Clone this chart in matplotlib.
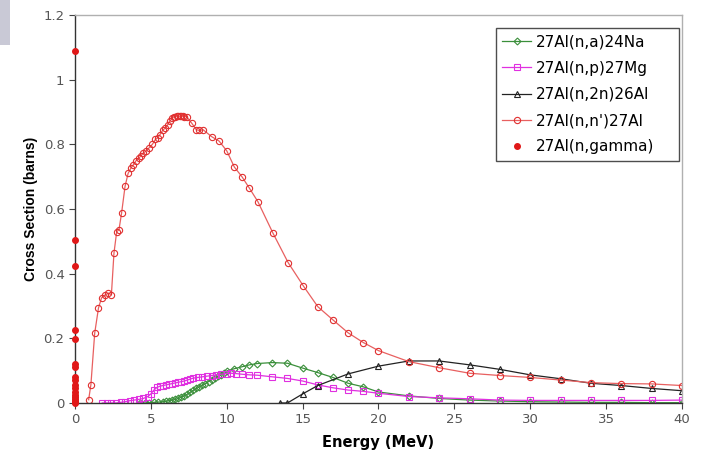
import matplotlib.pyplot as plt
from matplotlib.ticker import FuncFormatter
from matplotlib.patches import Rectangle

plt.rcParams['font.family'] = ['DejaVu Sans']

# 27Al(n,a)24Na
na_energy = [4.3, 4.6, 4.9, 5.2, 5.5, 5.8, 6.0, 6.2, 6.4, 6.6, 6.8, 7.0, 7.2, 7.4, 7.6, 7.8,
             8.0, 8.2, 8.4, 8.6, 8.8, 9.0, 9.2, 9.4, 9.6, 9.8, 10.0, 10.5, 11.0, 11.5, 12, 13,
             14, 15, 16, 17, 18, 19, 20, 22, 24, 26, 28, 30, 32, 34, 36, 38, 40]
na_xs = [0, 0, 0.001, 0.002, 0.003, 0.004, 0.005, 0.007, 0.009, 0.011, 0.014, 0.018, 0.022,
         0.027, 0.033, 0.039, 0.045, 0.05, 0.055, 0.06, 0.066, 0.072, 0.077, 0.082, 0.087,
         0.093, 0.099, 0.106, 0.112, 0.118, 0.122, 0.125, 0.123, 0.108, 0.094, 0.079, 0.061,
         0.05, 0.034, 0.022, 0.014, 0.009, 0.006, 0.004, 0.003, 0.002, 0.002, 0.001, 0.001]

# 27Al(n,p)27Mg
np_energy = [1.8, 2.1, 2.4, 2.7, 3.0, 3.3, 3.6, 3.9, 4.2, 4.5, 4.8, 5.0, 5.2, 5.4, 5.6, 5.8,
             6.0, 6.2, 6.4, 6.6, 6.8, 7.0, 7.2, 7.4, 7.6, 7.8, 8.1, 8.4, 8.7, 9.0, 9.3, 9.6,
             10.0, 10.3, 10.6, 11.0, 11.5, 12.0, 13, 14, 15, 16, 17, 18, 19, 20, 22, 24, 26,
             28, 30, 32, 34, 36, 38, 40]
np_xs = [0, 0, 0, 0, 0.002, 0.004, 0.007, 0.009, 0.011, 0.014, 0.02, 0.028, 0.04, 0.048,
         0.052, 0.054, 0.056, 0.058, 0.06, 0.062, 0.064, 0.066, 0.068, 0.071, 0.074, 0.077,
         0.079, 0.081, 0.083, 0.085, 0.087, 0.089, 0.091, 0.092, 0.091, 0.089, 0.087, 0.086,
         0.081, 0.076, 0.068, 0.056, 0.047, 0.040, 0.036, 0.030, 0.020, 0.016, 0.013, 0.009,
         0.008, 0.008, 0.008, 0.008, 0.008, 0.009]

# 27Al(n,2n)26Al
n2n_energy = [13.5, 14.0, 15, 16, 18, 20, 22, 24, 26, 28, 30, 32, 34, 36, 38, 40]
n2n_xs = [0, 0, 0.028, 0.054, 0.09, 0.114, 0.13, 0.13, 0.118, 0.104, 0.087, 0.075, 0.061,
          0.054, 0.045, 0.038]

# 27Al(n,n')27Al
inel_energy = [0.9, 1.05, 1.3, 1.55, 1.75, 1.95, 2.2, 2.4, 2.57, 2.75, 2.9, 3.07, 3.3, 3.5,
               3.7, 3.85, 4.0, 4.2, 4.35, 4.5, 4.7, 4.9, 5.1, 5.3, 5.45, 5.6, 5.8, 5.95, 6.1,
               6.25, 6.4, 6.5, 6.6, 6.7, 6.8, 6.9, 7.0, 7.1, 7.2, 7.35, 7.7, 8.0, 8.2, 8.45,
               9.0, 9.5, 10.0, 10.5, 11.0, 11.5, 12.05, 13.05, 14.05, 15.05, 16, 17, 18, 19,
               20, 22, 24, 26, 28, 30, 32, 34, 36, 38, 40]
inel_xs = [0.01, 0.057, 0.216, 0.294, 0.325, 0.333, 0.34, 0.335, 0.464, 0.53, 0.536, 0.587,
           0.67, 0.71, 0.728, 0.737, 0.748, 0.757, 0.765, 0.773, 0.78, 0.79, 0.80, 0.815,
           0.82, 0.83, 0.845, 0.85, 0.86, 0.872, 0.88, 0.885, 0.886, 0.887, 0.887, 0.887,
           0.887, 0.887, 0.886, 0.886, 0.865, 0.845, 0.843, 0.845, 0.824, 0.81, 0.78, 0.73,
           0.70, 0.664, 0.623, 0.525, 0.434, 0.362, 0.298, 0.257, 0.217, 0.187, 0.162, 0.128,
           0.109, 0.092, 0.085, 0.079, 0.071, 0.063, 0.06, 0.059, 0.054]

# 27Al(n,gamma) - low energy points, all at ~0 MeV
gamma_energy = [0] * 18
gamma_xs = [1.09, 0.505, 0.423, 0.227, 0.198, 0.12, 0.11, 0.08, 0.07, 0.055, 0.045, 0.035,
            0.025, 0.018, 0.012, 0.007, 0.003, 0.001]

x_ticks = [0, 5, 10, 15, 20, 25, 30, 35, 40]
y_ticks = [0, 0.2, 0.4, 0.6, 0.8, 1.0, 1.2]

fig = plt.figure(figsize=(7.02, 4.55), dpi=100)
ax = fig.add_axes([0.1068, 0.1143, 0.8647, 0.8527])

mk = dict(markersize=4.5, markerfacecolor='none', markeredgewidth=0.8, linewidth=0.9)
ax.plot(na_energy, na_xs, color='#3a8f3a', marker='D', label='27Al(n,a)24Na',
        **dict(mk, markersize=3.5))
ax.plot(np_energy, np_xs, color='#e030e0', marker='s', label='27Al(n,p)27Mg', **mk)
ax.plot(n2n_energy, n2n_xs, color='#222222', marker='^', label='27Al(n,2n)26Al', **mk)
ax.plot(inel_energy, inel_xs, color='#e86060', marker='o', label="27Al(n,n')27Al",
        markeredgecolor='#e03030', **mk)
ax.plot(gamma_energy, gamma_xs, linestyle='none', color='#e01818', marker='o',
        markersize=4, label='27Al(n,gamma)', clip_on=False, zorder=5)

ax.set_xlim(0, 40)
ax.set_ylim(0, 1.2)
ax.set_xticks(x_ticks)
ax.set_yticks(y_ticks)
ax.yaxis.set_major_formatter(FuncFormatter(lambda v, p: '%g' % v))
ax.tick_params(axis='both', labelsize=9.5, labelcolor='#555555', color='#444444',
               length=4, width=0.8)

for side in ['left', 'bottom']:
    ax.spines[side].set_color('#333333')
    ax.spines[side].set_linewidth(1.0)
for side in ['top', 'right']:
    ax.spines[side].set_color('#b0b0b0')
    ax.spines[side].set_linewidth(1.0)

ax.set_xlabel('Energy (MeV)', fontsize=10.5, fontweight='bold', labelpad=6)
ax.set_ylabel('Cross Section (barns)', fontsize=10, fontweight='bold', labelpad=4,
              family='Liberation Sans')

# legend box stretched to a fixed width in the upper right corner
leg = ax.legend(loc='upper left', bbox_to_anchor=(0.6936, 0.5, 0.3015, 0.466),
                mode='expand', borderaxespad=0, fontsize=11, frameon=True, fancybox=False,
                edgecolor='#222222', borderpad=0.42, labelspacing=0.73, handlelength=1.9,
                handletextpad=0.3)
leg.get_frame().set_linewidth(1.0)

# gray block in the upper left corner
fig.patches.append(Rectangle((0, 1 - 45 / 455), 10 / 702, 45 / 455, transform=fig.transFigure,
                             facecolor='#c9c9d6', edgecolor='none'))

fig.savefig('out.png', dpi=100)
